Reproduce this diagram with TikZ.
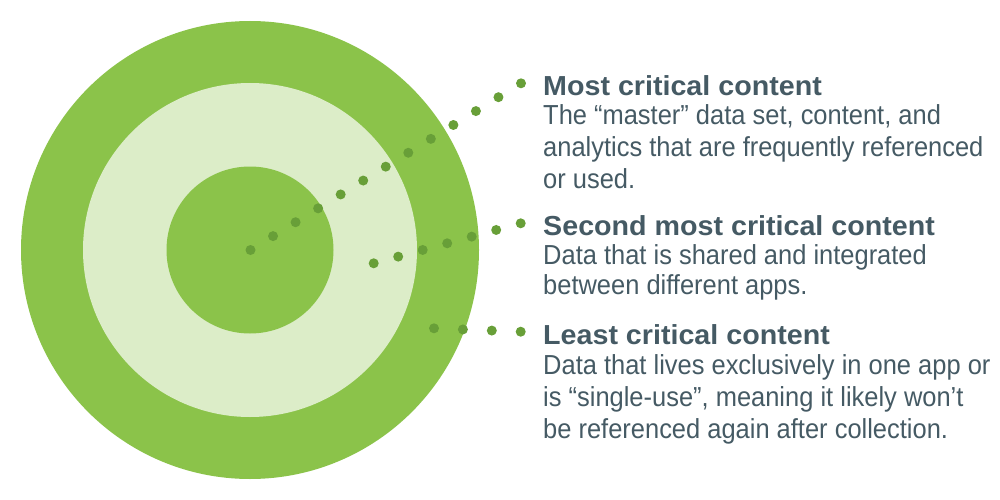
\documentclass[tikz,border=0pt]{standalone}
\usepackage{fontspec}
\setmainfont{Liberation Sans}
\newfontfamily\bodyfont{Liberation Sans}[FakeStretch=0.926]
\newfontfamily\headfont{Liberation Sans}[FakeStretch=1.042]
\usetikzlibrary{calc}
\definecolor{outergreen}{HTML}{8BC34A}
\definecolor{lightgreen}{HTML}{DCEDC8}
\definecolor{dotgreen}{HTML}{689F38}
\definecolor{slate}{HTML}{455A64}
\begin{document}
\begin{tikzpicture}[x=1pt,y=-1pt,
  ring/.style={circle,inner sep=0pt,outer sep=0pt,minimum size=#1},
  dotmark/.style={fill=dotgreen},
  title/.style={anchor=base west,inner sep=0pt,text=slate,font=\headfont\fontsize{27.5}{27.5}\selectfont\bfseries},
  body/.style={anchor=base west,inner sep=0pt,text=slate,font=\bodyfont\fontsize{27.5}{27.5}\selectfont}]
\useasboundingbox (0,0) rectangle (1000,500);
\node[ring=458pt,fill=outergreen] (outer) at (250,250) {};
\node[ring=334pt,fill=lightgreen] (middle) at (250,250) {};
\node[ring=167pt,fill=outergreen] (inner) at (250,250) {};
\coordinate (c) at (250.5,250);
\coordinate (e1) at (521,83.3);
\coordinate (s2) at (373.7,263.3);
\coordinate (e2) at (520.7,223.3);
\coordinate (s3) at (434,328.3);
\coordinate (e3) at (520.7,331.7);
\foreach \i in {0,...,12} \fill[dotmark] ($(c)!\i/12!(e1)$) circle (5);
\foreach \i in {0,...,6} \fill[dotmark] ($(s2)!\i/6!(e2)$) circle (5);
\foreach \i in {0,...,3} \fill[dotmark] ($(s3)!\i/3!(e3)$) circle (5);
\node[title] (t1) at (543,95.7) {Most critical content};
\node[body] (b1a) at (543,124.3) {The “master” data set, content, and};
\node[body] (b1b) at (543,156.5) {analytics that are frequently referenced};
\node[body] (b1c) at (543,188.3) {or used.};
\node[title] (t2) at (543,235) {Second most critical content};
\node[body] (b2a) at (543,264.3) {Data that is shared and integrated};
\node[body] (b2b) at (543,294.5) {between different apps.};
\node[title] (t3) at (543,344.3) {Least critical content};
\node[body] (b3a) at (543,374.3) {Data that lives exclusively in one app or};
\node[body] (b3b) at (543,406.5) {is “single-use”, meaning it likely won’t};
\node[body] (b3c) at (543,438.3) {be referenced again after collection.};
\end{tikzpicture}
\end{document}
